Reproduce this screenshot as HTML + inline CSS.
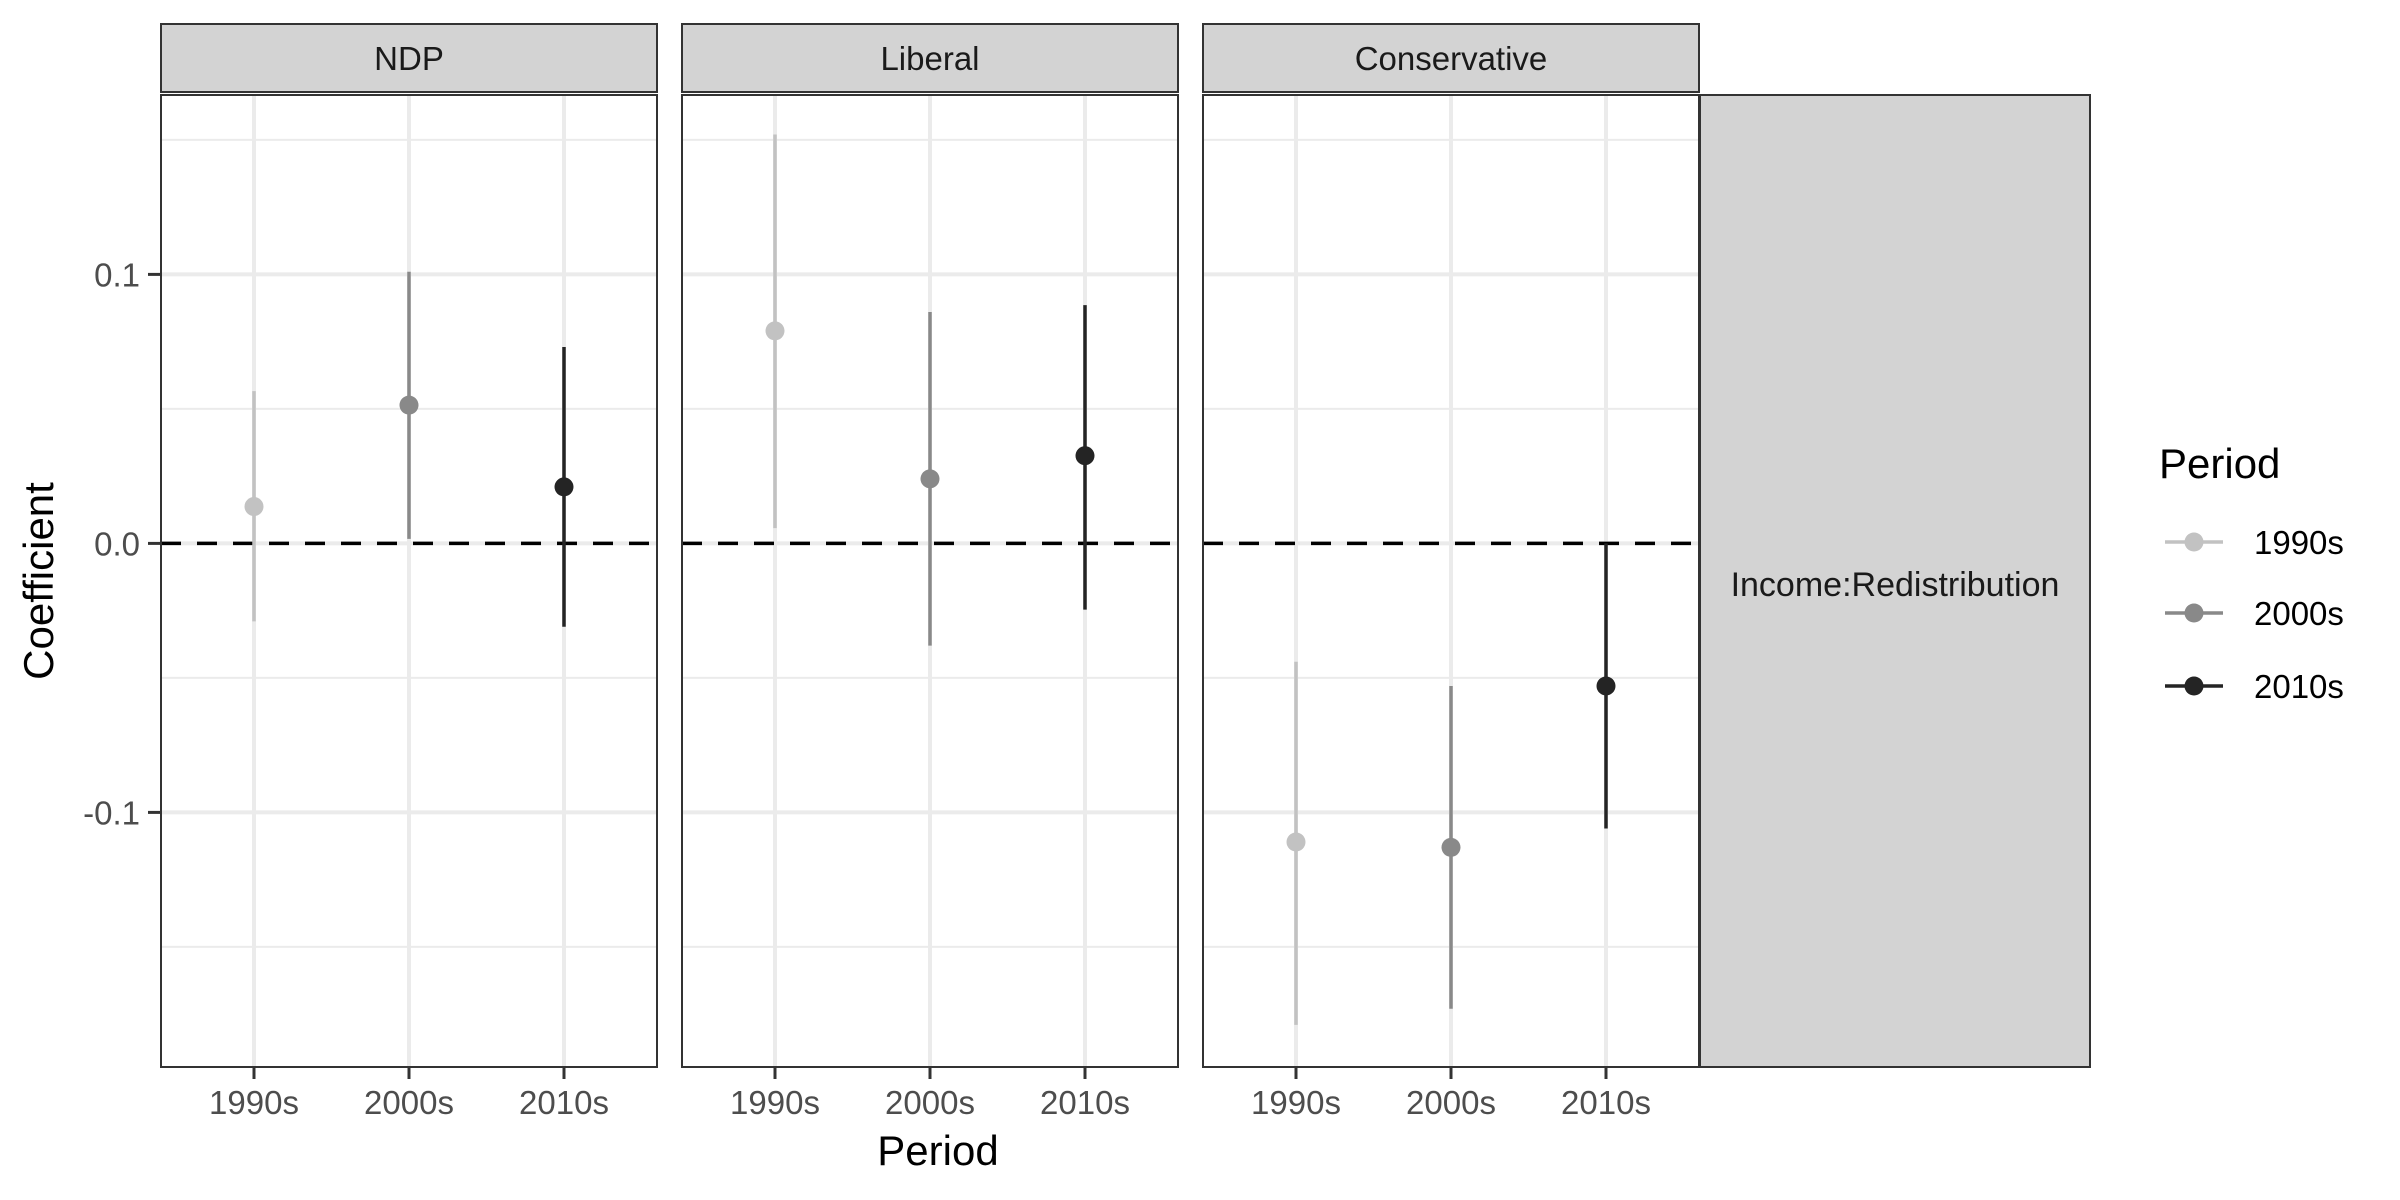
<!DOCTYPE html>
<html><head><meta charset="utf-8"><style>
html,body{margin:0;padding:0;background:#fff;}
svg{display:block;font-family:"Liberation Sans",Arial,sans-serif;}
</style></head><body>
<svg id="chart" width="2400" height="1200" viewBox="0 0 2400 1200" xmlns="http://www.w3.org/2000/svg"></svg>
<script>
const panels = ["NDP", "Liberal", "Conservative"];
const periods = ["1990s", "2000s", "2010s"];
const estimates = [[0.0137, 0.0514, 0.021], [0.079, 0.024, 0.0326], [-0.111, -0.113, -0.053]];
const lowers = [[-0.029, 0.0017, -0.031], [0.0057, -0.038, -0.0246], [-0.179, -0.173, -0.106]];
const uppers = [[0.0566, 0.101, 0.073], [0.152, 0.086, 0.0886], [-0.044, -0.053, 0.0]];
const yTicks = [0.1, 0.0, -0.1];
const yTickLabels = ["0.1", "0.0", "-0.1"];
const yMinor = [0.15, 0.05, -0.05, -0.15];
const colors = ["#c2c2c2", "#898989", "#242424"];

const NS = "http://www.w3.org/2000/svg";
const svg = document.getElementById("chart");
const PT = 95, PB = 1067, PW = 496;
const panelX = [161, 682, 1203];
const yZero = 543.4, yPer = 2690;
function y(v){ return yZero - v * yPer; }
function x(p, i){ return panelX[p] + PW * (0.6 + i) / 3.2; }
function el(tag, attrs, parent){
  const e = document.createElementNS(NS, tag);
  for (const k in attrs) e.setAttribute(k, attrs[k]);
  (parent || svg).appendChild(e);
  return e;
}

panels.forEach((name, p) => {
  const g = el("g", {});
  
  
  const x0 = panelX[p];
  el("rect", {x: x0, y: PT, width: PW, height: PB - PT, fill: "#fff"}, g);
  yMinor.forEach(v => el("line", {x1: x0, x2: x0 + PW, y1: y(v), y2: y(v), stroke: "#ebebeb", "stroke-width": 2}, g));
  yTicks.forEach(v => el("line", {x1: x0, x2: x0 + PW, y1: y(v), y2: y(v), stroke: "#ebebeb", "stroke-width": 4}, g));
  periods.forEach((per, i) => el("line", {x1: x(p, i), x2: x(p, i), y1: PT, y2: PB, stroke: "#ebebeb", "stroke-width": 4}, g));
  const z = el("line", {x1: x0, x2: x0 + PW, y1: y(0), y2: y(0), stroke: "#000", "stroke-width": 3.5, "stroke-dasharray": "20 16"}, g);
  
  
  periods.forEach((per, i) => {
    const ln = el("line", {x1: x(p, i), x2: x(p, i), y1: y(lowers[p][i]), y2: y(uppers[p][i]), stroke: colors[i], "stroke-width": 3.5}, g);
    
    
    const c = el("circle", {cx: x(p, i), cy: y(estimates[p][i]), r: 9.5, fill: colors[i]}, g);
    
    
    el("line", {x1: x(p, i), x2: x(p, i), y1: PB, y2: PB + 12, stroke: "#333", "stroke-width": 3}, g);
    const t = el("text", {x: x(p, i), y: PB + 47, "font-size": 33, fill: "#4d4d4d", "text-anchor": "middle"}, g);
    t.textContent = per;
    
    
  });
  el("rect", {x: x0, y: PT, width: PW, height: PB - PT, fill: "none", stroke: "#333", "stroke-width": 2}, g);
  const s = el("rect", {x: x0, y: 24, width: PW, height: 68, fill: "#d3d3d3", stroke: "#333", "stroke-width": 2}, g);
  
  
  const st = el("text", {x: x0 + PW / 2, y: 70, "font-size": 33, fill: "#1a1a1a", "text-anchor": "middle"}, g);
  st.textContent = name;
  
  
});

yTicks.forEach((v, i) => {
  el("line", {x1: 148, x2: 161, y1: y(v), y2: y(v), stroke: "#333", "stroke-width": 3});
  const t = el("text", {x: 140, y: y(v) + 12, "font-size": 33, fill: "#4d4d4d", "text-anchor": "end"});
  t.textContent = yTickLabels[i];
  
  
});
</script>
<script>
(function(){
  const NS = "http://www.w3.org/2000/svg";
  const svg = document.getElementById("chart");
  function el(tag, attrs){ const e = document.createElementNS(NS, tag); for (const k in attrs) e.setAttribute(k, attrs[k]); svg.appendChild(e); return e; }
  const g = el("rect", {x: 1700, y: 95, width: 390, height: 972, fill: "#d3d3d3", stroke: "#333", "stroke-width": 2});
  
  
  const gt = el("text", {x: 1895, y: 596, "font-size": 34, fill: "#1a1a1a", "text-anchor": "middle"});
  gt.textContent = "Income:Redistribution";
  
  
  const xt = el("text", {x: 938, y: 1165, "font-size": 42, fill: "#000", "text-anchor": "middle"});
  xt.textContent = "Period";
  
  
  const yt = el("text", {x: 0, y: 0, "font-size": 42, fill: "#000", "text-anchor": "middle", transform: "translate(53,581) rotate(-90)"});
  yt.textContent = "Coefficient";
  
  
  const lt = el("text", {x: 2159, y: 478, "font-size": 42, fill: "#000"});
  lt.textContent = "Period";
  
  
  const labs = ["1990s", "2000s", "2010s"], cols = ["#c2c2c2", "#898989", "#242424"], ys = [542, 613, 686];
  labs.forEach((l, i) => {
    const ln = el("line", {x1: 2165, x2: 2223, y1: ys[i], y2: ys[i], stroke: cols[i], "stroke-width": 3.5});
    
    
    el("circle", {cx: 2194, cy: ys[i], r: 9.5, fill: cols[i]});
    const t = el("text", {x: 2254, y: ys[i] + 12, "font-size": 33, fill: "#000"});
    t.textContent = l;
    
    
  });
})();
</script>
</body></html>
